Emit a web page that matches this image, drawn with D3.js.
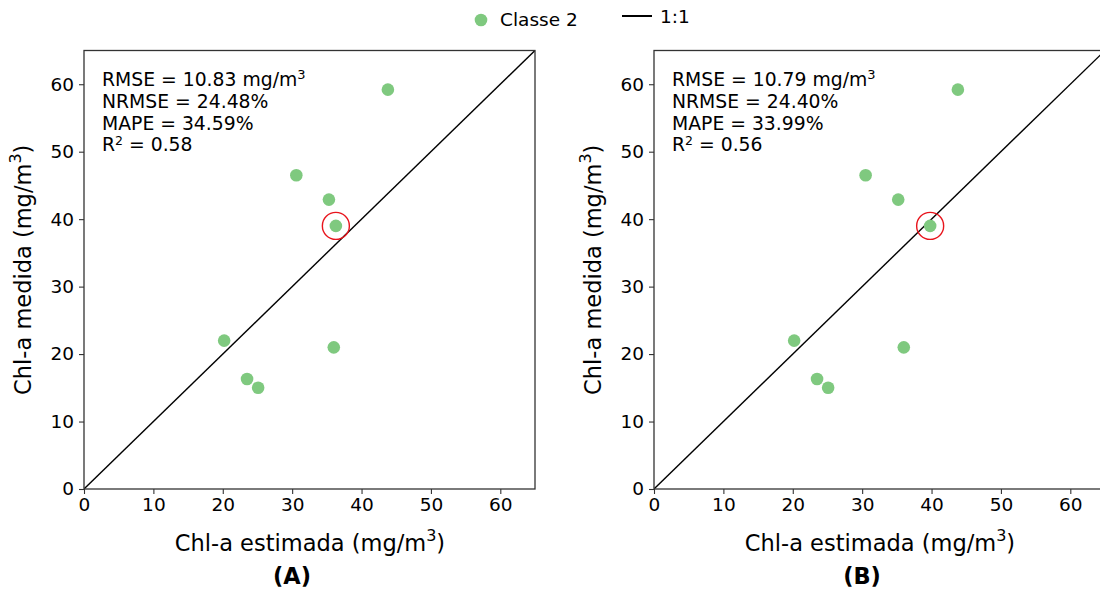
<!DOCTYPE html>
<html>
<head>
<meta charset="utf-8">
<script src="https://cdn.jsdelivr.net/npm/d3@7"></script>
<style>
  html, body { margin: 0; padding: 0; background: #fff; }
  text { font-family: "DejaVu Sans", sans-serif; fill: #000; }
</style>
</head>
<body>
<svg id="chart" width="1100" height="591"></svg>
<script>
// ---- data ----
const panelNames = ["(A)", "(B)"];
const estimatedA = [43.8, 30.6, 35.3, 36.3, 36.0, 20.2, 23.5, 25.1];
const estimatedB = [43.8, 30.5, 35.2, 39.8, 36.0, 20.2, 23.5, 25.1];
const measured   = [59.2, 46.5, 42.9, 39.0, 21.0, 22.0, 16.3, 15.0];
const highlightIndex = 3;
const statsA = ["RMSE = 10.83 mg/m", "NRMSE = 24.48%", "MAPE = 34.59%", "R", " = 0.58"];
const statsB = ["RMSE = 10.79 mg/m", "NRMSE = 24.40%", "MAPE = 33.99%", "R", " = 0.56"];
const tickValues = [0, 10, 20, 30, 40, 50, 60];
const axisDomain = [0, 65];
const seriesName = "Classe 2";
const lineName = "1:1";

const green = "#7fc97f";
const svg = d3.select("#chart");

const panels = [
  { name: panelNames[0], xs: estimatedA, stats: statsA, left: 84 },
  { name: panelNames[1], xs: estimatedB, stats: statsB, left: 654 }
];
const plotTop = 50.5, plotBottom = 489, plotWidth = 451;

panels.forEach(p => {
  const x = d3.scaleLinear().domain(axisDomain).range([p.left, p.left + plotWidth]);
  const y = d3.scaleLinear().domain(axisDomain).range([plotBottom, plotTop]);
  const g = svg.append("g");

  // clip
  const cid = "clip" + p.left;
  g.append("clipPath").attr("id", cid).append("rect")
    .attr("x", p.left).attr("y", plotTop).attr("width", plotWidth).attr("height", plotBottom - plotTop);

  // 1:1 line
  g.append("line")
    .attr("clip-path", `url(#${cid})`)
    .attr("x1", x(axisDomain[0])).attr("y1", y(axisDomain[0]))
    .attr("x2", x(axisDomain[1])).attr("y2", y(axisDomain[1]))
    .attr("stroke", "#000").attr("stroke-width", 1.4);

  // points
  g.selectAll("circle.pt").data(p.xs.map((v, i) => [v, measured[i]]))
    .enter().append("circle").attr("class", "pt")
    .attr("cx", d => x(d[0])).attr("cy", d => y(d[1]))
    .attr("r", 6.3).attr("fill", green);

  // highlight ring
  g.append("circle")
    .attr("cx", x(p.xs[highlightIndex])).attr("cy", y(measured[highlightIndex]))
    .attr("r", 13.5).attr("fill", "none").attr("stroke", "#e8141c").attr("stroke-width", 1.4);

  // axes
  const xAxis = d3.axisBottom(x).tickValues(tickValues).tickSize(5).tickPadding(4);
  const yAxis = d3.axisLeft(y).tickValues(tickValues).tickSize(5).tickPadding(5);
  const gx = g.append("g").attr("transform", `translate(0,${plotBottom})`).call(xAxis);
  const gy = g.append("g").attr("transform", `translate(${p.left},0)`).call(yAxis);
  [gx, gy].forEach(a => {
    a.select(".domain").remove();
    a.selectAll("line").attr("stroke", "#333").attr("stroke-width", 1.1);
    a.selectAll("text").style("font-size", "18.5px").style("font-family", "DejaVu Sans").attr("fill", "#000");
  });

  // frame
  g.append("rect").attr("x", p.left).attr("y", plotTop).attr("width", plotWidth).attr("height", plotBottom - plotTop)
    .attr("fill", "none").attr("stroke", "#333").attr("stroke-width", 1.3);

  // stats text
  const st = g.append("g").style("font-size", "18.8px");
  const t0 = st.append("text").attr("x", p.left + 18).attr("y", 86).text(p.stats[0]);
  t0.append("tspan").attr("dy", -7).style("font-size", "13px").text("3");
  st.append("text").attr("x", p.left + 18).attr("y", 108).text(p.stats[1]);
  st.append("text").attr("x", p.left + 18).attr("y", 129.5).text(p.stats[2]);
  const t3 = st.append("text").attr("x", p.left + 18).attr("y", 151).text(p.stats[3]);
  t3.append("tspan").attr("dy", -6.5).style("font-size", "12.5px").text("2");
  t3.append("tspan").attr("dy", 6.5).text(p.stats[4]);

  // x label
  const xl = g.append("text").attr("x", p.left + 226).attr("y", 551)
    .attr("text-anchor", "middle").style("font-size", "22.5px").text("Chl-a estimada (mg/m");
  xl.append("tspan").attr("dy", -10).style("font-size", "16px").text("3");
  xl.append("tspan").attr("dy", 10).text(")");

  // y label
  const yl = g.append("text").attr("transform", `translate(${p.left - 53},${(plotTop + plotBottom) / 2}) rotate(-90)`)
    .attr("text-anchor", "middle").style("font-size", "22.5px").text("Chl-a medida (mg/m");
  yl.append("tspan").attr("dy", -10).style("font-size", "16px").text("3");
  yl.append("tspan").attr("dy", 10).text(")");

  // panel name
  g.append("text").attr("x", p.left + 208).attr("y", 584).attr("text-anchor", "middle")
    .style("font-size", "22.5px").style("font-weight", "bold").text(p.name);
});

// legend
const lg = svg.append("g");
lg.append("circle").attr("cx", 481).attr("cy", 20).attr("r", 6.3).attr("fill", green);
lg.append("text").attr("x", 500).attr("y", 26).style("font-size", "18.5px").text(seriesName);
lg.append("line").attr("x1", 622).attr("x2", 652).attr("y1", 16).attr("y2", 16)
  .attr("stroke", "#000").attr("stroke-width", 2);
lg.append("text").attr("x", 660).attr("y", 23).style("font-size", "18.5px").text(lineName);
</script>
</body>
</html>
